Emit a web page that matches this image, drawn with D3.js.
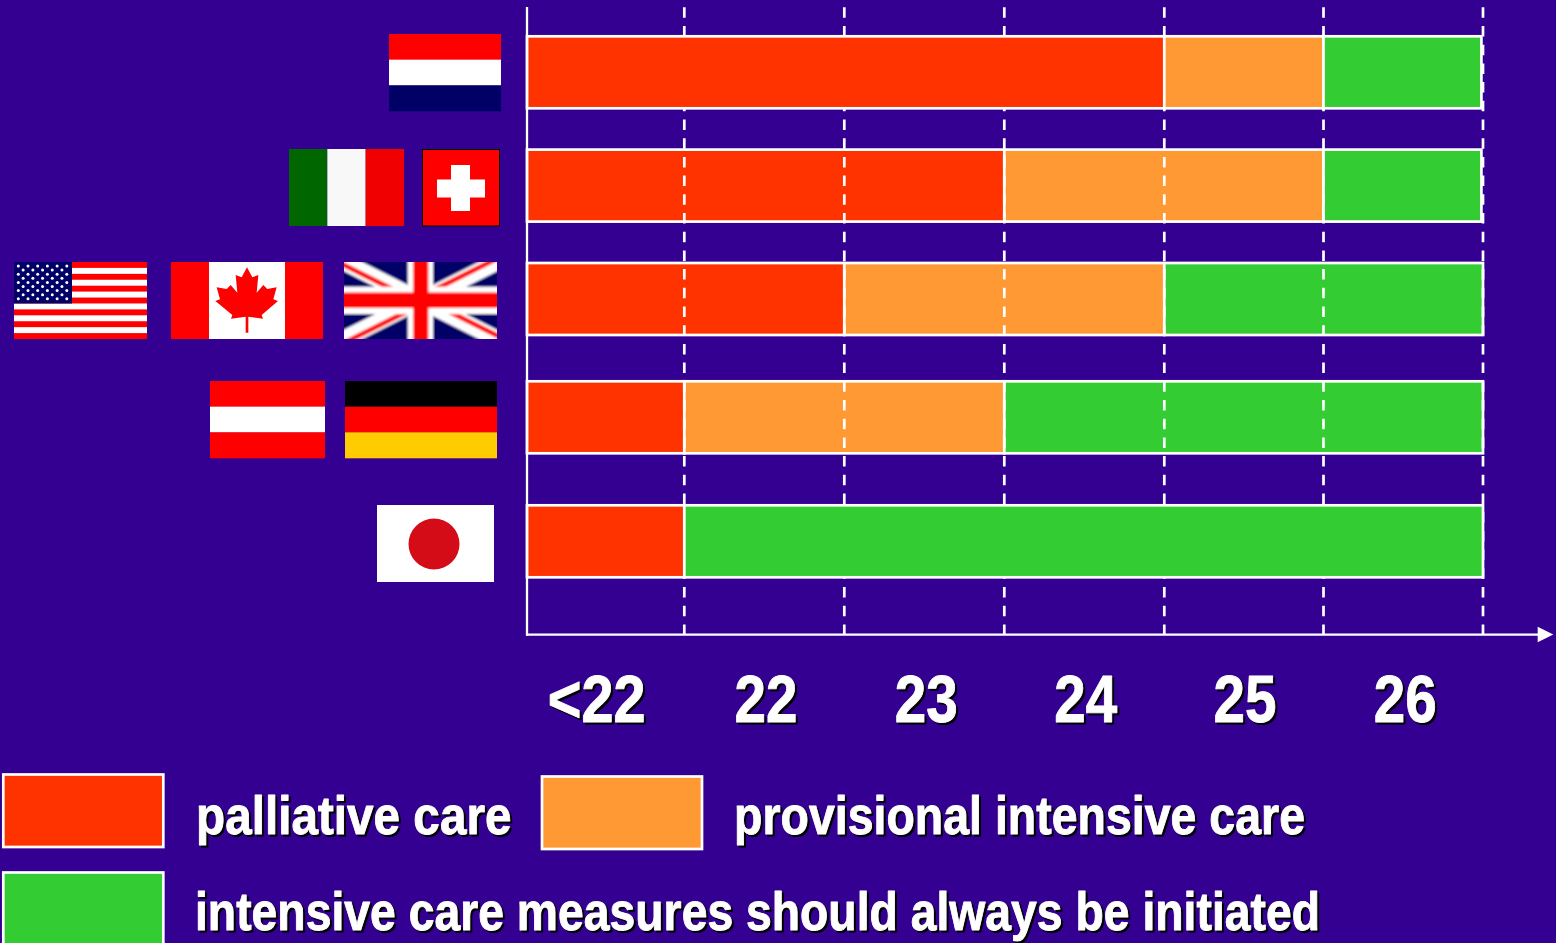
<!DOCTYPE html>
<html><head><meta charset="utf-8">
<script src="https://cdnjs.cloudflare.com/ajax/libs/d3/7.8.5/d3.min.js"></script>
<style>
html,body{margin:0;padding:0;background:#330092;overflow:hidden}
svg{display:block}
.lbl{font-family:"Liberation Sans",Arial,sans-serif;font-weight:700;fill:#fff;stroke:#fff;stroke-width:.9px;stroke-linejoin:round;filter:drop-shadow(2.5px 2.5px 0 #000)}
</style></head><body>
<svg id="c" width="1556" height="943"></svg>
<script>
// ---- data ----
const weekLabels = ["<22","22","23","24","25","26"];
const rowCountries = ["Netherlands","Italy / Switzerland","USA / Canada / UK","Austria / Germany","Japan"];
// number of week bands given to each care category, per row
const palliative  = [4,3,2,1,1];
const provisional = [1,2,2,2,0];
const intensive   = [0.99,0.99,2,3,5];
const careNames = ["palliative care","provisional intensive care","intensive care measures should always be initiated"];
const careColors = ["#ff3300","#ff9933","#33cc33"];

const white="#fff";
const svg=d3.select("#c");
const defs=svg.append("defs");
[["b4",.4],["b6",.7],["b8",.8]].forEach(([id,s])=>defs.append("filter").attr("id",id).attr("x","-5%").attr("y","-5%").attr("width","110%").attr("height","110%").append("feGaussianBlur").attr("stdDeviation",s));

const x=d3.scaleLinear().domain([0,1,2,3,4,5,6]).range([527,684.3,844.3,1004.3,1164.3,1323.5,1483]);
const y=d3.scaleLinear().domain([0,1,2,3,4]).range([36.3,149.6,263,381.3,505.3]);
const barH=72;

const rows=rowCountries.map((c,i)=>{let a=0;return [palliative[i],provisional[i],intensive[i]].map((v,k)=>{const s={row:i,k,x0:a,x1:a+v};a+=v;return s;}).filter(s=>s.x1>s.x0);}).flat();
function drawBars(rowsWanted){
 svg.append("g").selectAll("rect").data(rows.filter(d=>rowsWanted.includes(d.row))).join("rect")
 .attr("x",d=>x(d.x0)).attr("width",d=>x(d.x1)-x(d.x0))
 .attr("y",d=>y(d.row)).attr("height",barH)
 .attr("fill",d=>careColors[d.k]).attr("stroke",white).attr("stroke-width",2.7);
}
// the middle three rows lie under the dashed gridlines, the first and last over them
drawBars([1,2,3]);
svg.append("g").selectAll("line").data(d3.range(1,7)).join("line")
 .attr("x1",d=>x(d)).attr("x2",d=>x(d)).attr("y1",7.3).attr("y2",635)
 .attr("stroke",white).attr("stroke-width",2.7).attr("stroke-dasharray","10.5 8.2");
drawBars([0,4]);

// axes
svg.append("line").attr("x1",527).attr("x2",527).attr("y1",7).attr("y2",635.7).attr("stroke",white).attr("stroke-width",2.3);
svg.append("line").attr("x1",526).attr("x2",1542).attr("y1",634.6).attr("y2",634.6).attr("stroke",white).attr("stroke-width",2.3);
svg.append("path").attr("d","M1537.7,626.7L1553.3,634.5L1537.7,642.3Z").attr("fill",white);

const band=d3.scaleBand().domain(weekLabels).range([x(0),x(6)]);
const tickNudge=[-10,0,1,1,1,2], tickLen=[98,63,63,63,63,63];
const ax=svg.append("g").attr("transform","translate(0,722)").call(d3.axisBottom(band).tickSize(0).tickPadding(0));
ax.select(".domain").remove();
ax.attr("font-family",null).attr("font-size",null);
ax.selectAll("text").attr("class","lbl").attr("y",0).attr("dy",0).style("font-size","66px")
 .attr("dx",(d,i)=>tickNudge[i]).attr("textLength",(d,i)=>tickLen[i]).attr("lengthAdjust","spacingAndGlyphs");

// legend
const legendBoxes=[[3.3,774.5,160,72.5],[542,776.5,160,72.5],[3.3,872.5,160,80]];
svg.append("g").selectAll("rect").data(legendBoxes).join("rect")
 .attr("x",d=>d[0]).attr("y",d=>d[1]).attr("width",d=>d[2]).attr("height",d=>d[3])
 .attr("fill",(d,i)=>careColors[i]).attr("stroke",white).attr("stroke-width",2.7);
const legendText=[[196,834,315.5],[734,834,571],[195,930,1125]];
svg.append("g").selectAll("text").data(careNames).join("text").attr("class","lbl")
 .attr("x",(d,i)=>legendText[i][0]).attr("y",(d,i)=>legendText[i][1])
 .attr("textLength",(d,i)=>legendText[i][2]).attr("lengthAdjust","spacingAndGlyphs")
 .attr("font-size",53).text(d=>d);

// flags
function rect(g,x0,y0,w,h,f){return g.append("rect").attr("x",x0).attr("y",y0).attr("width",w).attr("height",h).attr("fill",f);}
function hstripes(px,py,w,h,cols){const g=svg.append("g").attr("filter","url(#b4)");cols.forEach((c,i)=>rect(g,px,py+h*i/cols.length,w,h/cols.length+.3,c));}
function vstripes(px,py,w,h,cols,fr){const g=svg.append("g").attr("filter","url(#b4)");let a=0;cols.forEach((c,i)=>{rect(g,px+w*a,py,w*fr[i],h,c);a+=fr[i];});}
function clipped(id,px,py,w,h,blur){
 defs.append("clipPath").attr("id",id).append("rect").attr("x",px).attr("y",py).attr("width",w).attr("height",h);
 return svg.append("g").attr("clip-path",`url(#${id})`).append("g").attr("filter",`url(#${blur})`);
}
hstripes(389,34,112,77,["#ff0000","#ffffff","#000066"]);
vstripes(289,149,115,77,["#006600","#f8f8f8","#f00000"],[1/3,1/3,1/3]);
// Switzerland
{const g=svg.append("g");g.append("rect").attr("x",422.5).attr("y",149.5).attr("width",77).attr("height",76.5).attr("fill","#ff0000").attr("stroke","#000").attr("stroke-width",1);
 rect(g,451,165,19,46,white);rect(g,437,179.5,48,18,white);}
// USA
{const g=clipped("us",14,262,133,77,"b6");const sw=77/13;
 rect(g,10,258,141,85,"#ff0000");
 d3.range(13).forEach(i=>{if(i%2)rect(g,10,262+i*sw,141,sw,"#ffffff");});
 rect(g,10,258,62,45.5,"#000066");
 d3.range(9).forEach(r=>{const odd=r%2;d3.range(odd?5:6).forEach(c=>g.append("circle").attr("cx",18.3+(odd?4.85:0)+c*9.7).attr("cy",266+r*4.1).attr("r",1.5).attr("fill","#ffffff"));});}
// Canada
{const g=clipped("ca",171,262,152,77,"b4");rect(g,165,258,164,85,"#ff0000");rect(g,209,258,76,85,white);
 const leaf=[[741,82],[757,112],[775,105],[770,158],[790,135],[802,147],[830,142],[820,178],[834,183],[785,225],[789,236],[745,230],[745,278],[737,278],[737,230],[693,236],[697,225],[646,183],[660,178],[650,142],[680,147],[692,135],[712,158],[707,105],[725,112]];
 g.append("polygon").attr("points",leaf.map(p=>[p[0]/3,p[1]/3+240].join(",")).join(" ")).attr("fill","#ff0000");}
// UK
{const g=clipped("uk",344,262,153,77,"b8");rect(g,338,256,165,89,"#000066");
 [[334,257,507,344],[334,344,507,257]].forEach(d=>g.append("line").attr("x1",d[0]).attr("y1",d[1]).attr("x2",d[2]).attr("y2",d[3]).attr("stroke",white).attr("stroke-width",16.5));
 [[334,260,420,303],[420,297,510,252],[334,348,420,305],[420,297,510,342]].forEach(d=>g.append("line").attr("x1",d[0]).attr("y1",d[1]).attr("x2",d[2]).attr("y2",d[3]).attr("stroke","#ff0000").attr("stroke-width",5));
 rect(g,407.7,256,25.3,89,white);rect(g,338,286.7,165,27.3,white);
 rect(g,413.3,256,15,89,"#ff0000");rect(g,338,292.5,165,15.5,"#ff0000");}
hstripes(210,381,115,77,["#ff0000","#ffffff","#ff0000"]);
hstripes(345,381,152,77,["#000000","#ff0000","#ffcc00"]);
// Japan
{const g=svg.append("g");rect(g,377,505,117,77,white);g.append("circle").attr("cx",434).attr("cy",544).attr("r",25.5).attr("fill","#d40c18");}
</script></body></html>
